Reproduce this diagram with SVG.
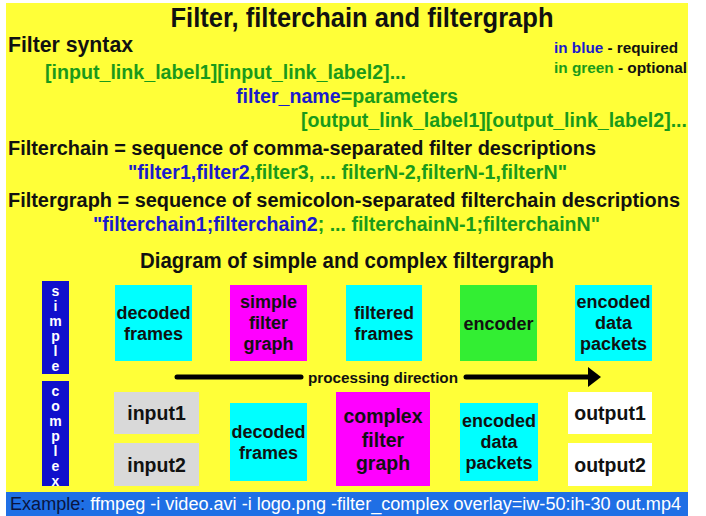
<svg xmlns="http://www.w3.org/2000/svg" width="706" height="516" viewBox="0 0 706 516">
<style>
  text { font-family: "Liberation Sans", Arial, sans-serif; font-weight: bold; }
  .blk { fill: #111111; }
  .grn { fill: #1a9a1a; }
  .blu { fill: #1a1acc; }
  .box { stroke: none; }
  .lbl { font-size: 18px; fill: #111111; text-anchor: middle; }
  .lbl2 { font-size: 19.5px; fill: #111111; text-anchor: middle; }
  .vt { font-size: 14px; fill: #ffffff; text-anchor: middle; }
</style>
<rect x="0" y="0" width="706" height="516" fill="#ffffff"/>
<rect x="6" y="3" width="682" height="489" fill="#ffff38"/>
<rect x="6" y="492" width="682" height="24" fill="#1f6fe5"/>

<g id="header">
  <text x="362" y="27" font-size="27" class="blk" text-anchor="middle" textLength="383" lengthAdjust="spacingAndGlyphs">Filter, filterchain and filtergraph</text>
  <text x="8" y="52" font-size="22.5" class="blk" textLength="125" lengthAdjust="spacingAndGlyphs">Filter syntax</text>
  <text x="554" y="53" font-size="15" textLength="124" lengthAdjust="spacingAndGlyphs"><tspan class="blu">in blue</tspan><tspan class="blk"> - required</tspan></text>
  <text x="554" y="73" font-size="15" textLength="133" lengthAdjust="spacingAndGlyphs"><tspan class="grn">in green</tspan><tspan class="blk"> - optional</tspan></text>
  <text x="45" y="79" font-size="19.5" class="grn" textLength="361" lengthAdjust="spacingAndGlyphs">[input_link_label1][input_link_label2]...</text>
  <text x="236" y="103" font-size="19.5" textLength="222" lengthAdjust="spacingAndGlyphs"><tspan class="blu">filter_name</tspan><tspan class="grn">=parameters</tspan></text>
  <text x="301" y="127" font-size="19.5" class="grn" textLength="386" lengthAdjust="spacingAndGlyphs">[output_link_label1][output_link_label2]...</text>
  <text x="8" y="155" font-size="20" class="blk" textLength="588" lengthAdjust="spacingAndGlyphs">Filterchain = sequence of comma-separated filter descriptions</text>
  <text x="128" y="179" font-size="19.5" textLength="439" lengthAdjust="spacingAndGlyphs"><tspan class="blu">"filter1,filter2</tspan><tspan class="grn">,filter3, ... filterN-2,filterN-1,filterN"</tspan></text>
  <text x="8" y="207" font-size="20" class="blk" textLength="672" lengthAdjust="spacingAndGlyphs">Filtergraph = sequence of semicolon-separated filterchain descriptions</text>
  <text x="93" y="231" font-size="19.5" textLength="507" lengthAdjust="spacingAndGlyphs"><tspan class="blu">"filterchain1;filterchain2</tspan><tspan class="grn">; ... filterchainN-1;filterchainN"</tspan></text>
  <text x="347" y="268" font-size="22" class="blk" text-anchor="middle" textLength="414" lengthAdjust="spacingAndGlyphs">Diagram of simple and complex filtergraph</text>
</g>

<g id="simple-bar">
  <rect x="42" y="281" width="27" height="93" fill="#1010cc"/>
  <text class="vt" x="55.5" y="296">s</text>
  <text class="vt" x="55.5" y="311">i</text>
  <text class="vt" x="55.5" y="326">m</text>
  <text class="vt" x="55.5" y="341">p</text>
  <text class="vt" x="55.5" y="356">l</text>
  <text class="vt" x="55.5" y="371">e</text>
</g>
<g id="complex-bar">
  <rect x="42" y="381" width="27" height="105" fill="#1010cc"/>
  <text class="vt" x="55.5" y="396">c</text>
  <text class="vt" x="55.5" y="411">o</text>
  <text class="vt" x="55.5" y="426">m</text>
  <text class="vt" x="55.5" y="441">p</text>
  <text class="vt" x="55.5" y="456">l</text>
  <text class="vt" x="55.5" y="471">e</text>
  <text class="vt" x="55.5" y="486">x</text>
</g>

<g id="decoded-frames-1">
  <rect class="box" x="115" y="285" width="77" height="76" fill="#00ffff"/>
  <text class="lbl" x="153.5" y="319">decoded</text>
  <text class="lbl" x="153.5" y="340">frames</text>
</g>
<g id="simple-filter-graph">
  <rect class="box" x="230" y="285" width="77" height="76" fill="#ff00ff"/>
  <text class="lbl" x="268.5" y="308">simple</text>
  <text class="lbl" x="268.5" y="329">filter</text>
  <text class="lbl" x="268.5" y="350">graph</text>
</g>
<g id="filtered-frames">
  <rect class="box" x="346" y="285" width="76" height="76" fill="#00ffff"/>
  <text class="lbl" x="384" y="319">filtered</text>
  <text class="lbl" x="384" y="340">frames</text>
</g>
<g id="encoder">
  <rect class="box" x="460" y="285" width="77" height="76" fill="#33ee33"/>
  <text class="lbl" x="498.5" y="330">encoder</text>
</g>
<g id="encoded-data-packets-1">
  <rect class="box" x="575" y="285" width="77" height="76" fill="#00ffff"/>
  <text class="lbl" x="613.5" y="308">encoded</text>
  <text class="lbl" x="613.5" y="329">data</text>
  <text class="lbl" x="613.5" y="350">packets</text>
</g>

<g id="input1">
  <rect class="box" x="114" y="392" width="85" height="42" fill="#d9d9d9"/>
  <text class="lbl2" x="156.5" y="420">input1</text>
</g>
<g id="input2">
  <rect class="box" x="114" y="443" width="85" height="43" fill="#d9d9d9"/>
  <text class="lbl2" x="156.5" y="472">input2</text>
</g>
<g id="decoded-frames-2">
  <rect class="box" x="230" y="403" width="77" height="78" fill="#00ffff"/>
  <text class="lbl" x="268.5" y="438">decoded</text>
  <text class="lbl" x="268.5" y="459">frames</text>
</g>
<g id="complex-filter-graph">
  <rect class="box" x="336" y="392" width="94" height="94" fill="#ff00ff"/>
  <text class="lbl2" x="383" y="423">complex</text>
  <text class="lbl2" x="383" y="447">filter</text>
  <text class="lbl2" x="383" y="470">graph</text>
</g>
<g id="encoded-data-packets-2">
  <rect class="box" x="460" y="403" width="78" height="78" fill="#00ffff"/>
  <text class="lbl" x="499" y="427">encoded</text>
  <text class="lbl" x="499" y="448">data</text>
  <text class="lbl" x="499" y="469">packets</text>
</g>
<g id="output1">
  <rect class="box" x="568" y="392" width="84" height="42" fill="#ffffff"/>
  <text class="lbl2" x="610" y="420">output1</text>
</g>
<g id="output2">
  <rect class="box" x="568" y="443" width="84" height="43" fill="#ffffff"/>
  <text class="lbl2" x="610" y="472">output2</text>
</g>

<g id="connectors">
  <line x1="177" y1="377" x2="301" y2="377" stroke="#000000" stroke-width="5" stroke-linecap="round"/>
  <line x1="466" y1="377" x2="592" y2="377" stroke="#000000" stroke-width="5" stroke-linecap="round"/>
  <polygon points="588,367 601,377 588,387" fill="#000000"/>
  <text x="383" y="383" font-size="15.5" class="blk" text-anchor="middle" textLength="150" lengthAdjust="spacingAndGlyphs">processing direction</text>
</g>

<g id="example">
  <text x="10" y="510" font-size="18" style="font-weight:normal" textLength="671" lengthAdjust="spacingAndGlyphs"><tspan fill="#0a1540">Example:</tspan><tspan fill="#ffffff"> ffmpeg -i video.avi -i logo.png -filter_complex overlay=iw-50:ih-30 out.mp4</tspan></text>
</g>
</svg>
